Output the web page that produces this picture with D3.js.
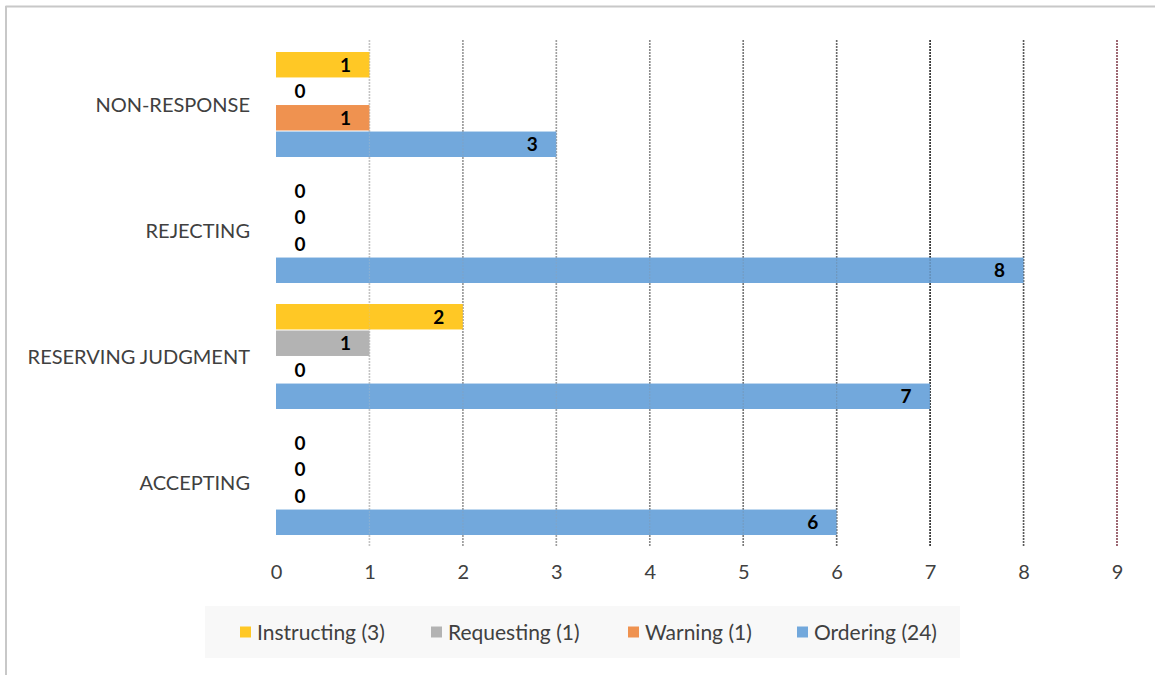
<!DOCTYPE html>
<html><head><meta charset="utf-8">
<script src="https://cdn.jsdelivr.net/npm/d3@7"></script>
<style>body{margin:0;background:#fff}svg{display:block}text{font-family:Lato,"Open Sans",sans-serif}</style>
</head><body>
<svg id="c" width="1155" height="675"></svg>
<script>
const categories = ["NON-RESPONSE", "REJECTING", "RESERVING JUDGMENT", "ACCEPTING"];
const seriesNames = ["Instructing (3)", "Requesting (1)", "Warning (1)", "Ordering (24)"];
const instructing = [1, 0, 2, 0];
const requesting = [0, 0, 1, 0];
const warning = [1, 0, 0, 0];
const ordering = [3, 8, 7, 6];
const xTicks = [0, 1, 2, 3, 4, 5, 6, 7, 8, 9];
const colors = ["#FFC825", "#B3B3B3", "#EF9250", "#72A8DC"];
const gridColors = ["#c4c4c4", "#9a9a9a", "#a0a0a0", "#8a8a8a", "#7a7a7a", "#6a6a6a", "#303030", "#5a5a5a", "#8a4a58"];

const seriesValues = [instructing, requesting, warning, ordering];
const svg = d3.select("#c");

// outer border
svg.append("line").attr("x1",5.5).attr("x2",1155).attr("y1",6.5).attr("y2",6.5).attr("stroke","#c8c8c8").attr("stroke-width",2);
svg.append("line").attr("x1",6).attr("x2",6).attr("y1",6).attr("y2",675).attr("stroke","#c8c8c8").attr("stroke-width",2);

const x = d3.scaleLinear().domain([0, 9]).range([276, 1117]);
const y0 = d3.scaleBand().domain(categories).range([41.5, 545.5]).paddingInner(0.1667).paddingOuter(0.0833);
const y1 = d3.scaleBand().domain(seriesNames).range([0, y0.bandwidth()]).paddingInner(0.04);

// gridlines
const gridG = svg.append("g");
xTicks.filter(t => t > 0).forEach((t, i) => {
  gridG.append("line").attr("x1", x(t)).attr("x2", x(t)).attr("y1", 40).attr("y2", 546)
    .attr("stroke", gridColors[i]).attr("stroke-width", 1.6).attr("stroke-dasharray", "2,1");
});

// bars
const data = [];
categories.forEach((c, ci) => seriesNames.forEach((s, si) => data.push({c, s, si, v: seriesValues[si][ci]})));
const barG = svg.append("g");
barG.selectAll("rect").data(data.filter(d => d.v > 0)).join("rect")
  .attr("x", x(0)).attr("y", d => y0(d.c) + y1(d.s))
  .attr("width", d => x(d.v) - x(0)).attr("height", y1.bandwidth())
  .attr("fill", d => colors[d.si]);

// faint gridlines showing through bars
xTicks.filter(t => t > 0).forEach((t, i) => {
  svg.append("line").attr("x1", x(t)).attr("x2", x(t)).attr("y1", 40).attr("y2", 546)
    .attr("stroke", gridColors[i]).attr("stroke-width", 1.2).attr("stroke-dasharray", "2,1").attr("opacity", 0.25);
});

// value labels
svg.append("g").selectAll("text").data(data).join("text")
  .attr("x", d => Math.max(x(d.v) - 24, x(0) + 24))
  .attr("y", d => y0(d.c) + y1(d.s) + y1.bandwidth() / 2)
  .attr("dy", "0.36em").attr("text-anchor", "middle")
  .attr("font-size", 19).attr("font-weight", "bold").attr("fill", "#000")
  .text(d => d.v);

// category labels
svg.append("g").selectAll("text").data(categories).join("text")
  .attr("x", 250).attr("y", d => y0(d) + y0.bandwidth() / 2).attr("dy", "0.36em")
  .attr("text-anchor", "end").attr("font-size", 20).attr("fill", "#404040").text(d => d);

// x axis labels
const xAxis = d3.axisBottom(x).tickValues(xTicks).tickSize(0).tickPadding(0);
const ax = svg.append("g").attr("transform", "translate(0,565)").call(xAxis);
ax.select(".domain").remove();
ax.selectAll("text").attr("font-size", 20).attr("fill", "#404040").attr("font-family", "Lato,'Open Sans',sans-serif");

// legend
svg.append("rect").attr("x", 205).attr("y", 606).attr("width", 755).attr("height", 52).attr("fill", "#f8f8f8");
const legX = [240, 431, 628, 797];
const leg = svg.append("g").selectAll("g").data(seriesNames).join("g")
  .attr("transform", (d, i) => `translate(${legX[i]},632)`);
leg.append("rect").attr("x", 0).attr("y", -5.5).attr("width", 11).attr("height", 11).attr("fill", (d, i) => colors[i]);
leg.append("text").attr("x", 17).attr("dy", "0.36em").attr("font-size", 21).attr("fill", "#404040").text(d => d);
</script>
</body></html>
